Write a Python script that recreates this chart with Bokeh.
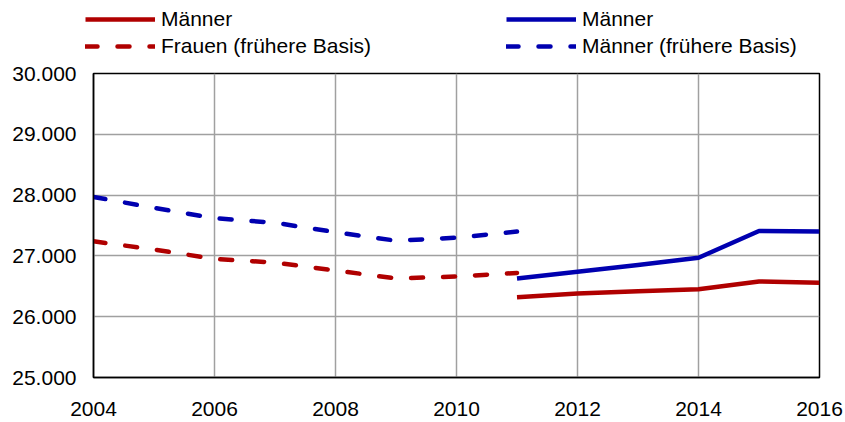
from bokeh.plotting import figure
from bokeh.models import FixedTicker, Legend, LegendItem, Range1d
from bokeh.embed import file_html
from bokeh.resources import INLINE

years_old = [2004, 2005, 2006, 2007, 2008, 2009, 2010, 2011]
frauen_old = [27240, 27105, 26950, 26890, 26760, 26630, 26660, 26720]
maenner_old = [27970, 27790, 27620, 27545, 27390, 27250, 27300, 27400]

years_new = [2011, 2012, 2013, 2014, 2015, 2016]
frauen_new = [26320, 26380, 26420, 26450, 26580, 26560]
maenner_new = [26630, 26740, 26850, 26970, 27410, 27400]

x_ticks = [2004, 2006, 2008, 2010, 2012, 2014, 2016]
y_ticks = [25000, 26000, 27000, 28000, 29000, 30000]
y_tick_labels = ["25.000", "26.000", "27.000", "28.000", "29.000", "30.000"]

legend_left = ["Männer", "Frauen (frühere Basis)"]
legend_right = ["Männer", "Männer (frühere Basis)"]

RED = "#B00000"
BLUE = "#0000B0"
FONT = "Liberation Sans"
W = 845
TOP_H = 60
MAIN_H = 362

solid = dict(line_width=4.5, line_join="round")
dashed = dict(line_width=4.5, line_dash="12 20", line_cap="round", line_join="round")

# ---------- main chart ----------
p = figure(width=W, height=MAIN_H, output_backend="svg", toolbar_location=None,
           x_range=Range1d(2004, 2016), y_range=Range1d(25000, 30000),
           min_border_left=93, min_border_right=26, min_border_top=13, min_border_bottom=45)
p.outline_line_color = "black"
p.outline_line_width = 1.5

p.line(years_new, frauen_new, line_color=RED, **solid)
p.line(years_old, frauen_old, line_color=RED, **dashed)
p.line(years_new, maenner_new, line_color=BLUE, **solid)
p.line(years_old, maenner_old, line_color=BLUE, **dashed)

for ax in (p.xaxis[0], p.yaxis[0]):
    ax.axis_line_color = "black"
    ax.axis_line_width = 1.5
    ax.major_tick_in = 0
    ax.major_tick_out = 0
    ax.minor_tick_in = 0
    ax.minor_tick_out = 0
    ax.major_label_text_font = FONT
    ax.major_label_text_font_size = "21px"
    ax.major_label_text_color = "black"

p.xaxis.ticker = FixedTicker(ticks=x_ticks)
p.xaxis.major_label_standoff = 24
p.yaxis.ticker = FixedTicker(ticks=y_ticks)
p.yaxis.major_label_overrides = {v: s for v, s in zip(y_ticks, y_tick_labels)}
p.yaxis.major_label_standoff = 17

p.xgrid.ticker = FixedTicker(ticks=x_ticks)
p.ygrid.ticker = FixedTicker(ticks=y_ticks)
p.grid.grid_line_color = "#a0a0a0"
p.grid.grid_line_width = 1.5

# ---------- legend strip (same series, outside its visible range) ----------
lf = figure(width=W, height=TOP_H, output_backend="svg", toolbar_location=None,
            x_range=Range1d(0, 1), y_range=Range1d(0, 1), min_border=0)
lf.axis.visible = False
lf.grid.visible = False
lf.outline_line_color = None

e_fn = lf.line(years_new, frauen_new, line_color=RED, **solid)
e_fo = lf.line(years_old, frauen_old, line_color=RED, **dashed)
e_mn = lf.line(years_new, maenner_new, line_color=BLUE, **solid)
e_mo = lf.line(years_old, maenner_old, line_color=BLUE, **dashed)


def make_legend(items, loc):
    lg = Legend(items=items, location=loc, orientation="vertical")
    lg.label_text_font = FONT
    lg.label_text_font_size = "21px"
    lg.label_text_color = "black"
    lg.glyph_width = 70
    lg.glyph_height = 20
    lg.label_height = 20
    lg.label_standoff = 6
    lg.spacing = 3
    lg.padding = 0
    lg.margin = 0
    lg.border_line_color = None
    lg.background_fill_alpha = 0
    return lg


leg1 = make_legend([LegendItem(label=legend_left[0], renderers=[e_fn]),
                    LegendItem(label=legend_left[1], renderers=[e_fo])], (85, 2))
leg2 = make_legend([LegendItem(label=legend_right[0], renderers=[e_mn]),
                    LegendItem(label=legend_right[1], renderers=[e_mo])], (506, 2))
lf.add_layout(leg1, "center")
lf.add_layout(leg2, "center")

open("out.html", "w").write(file_html([lf, p], INLINE))
